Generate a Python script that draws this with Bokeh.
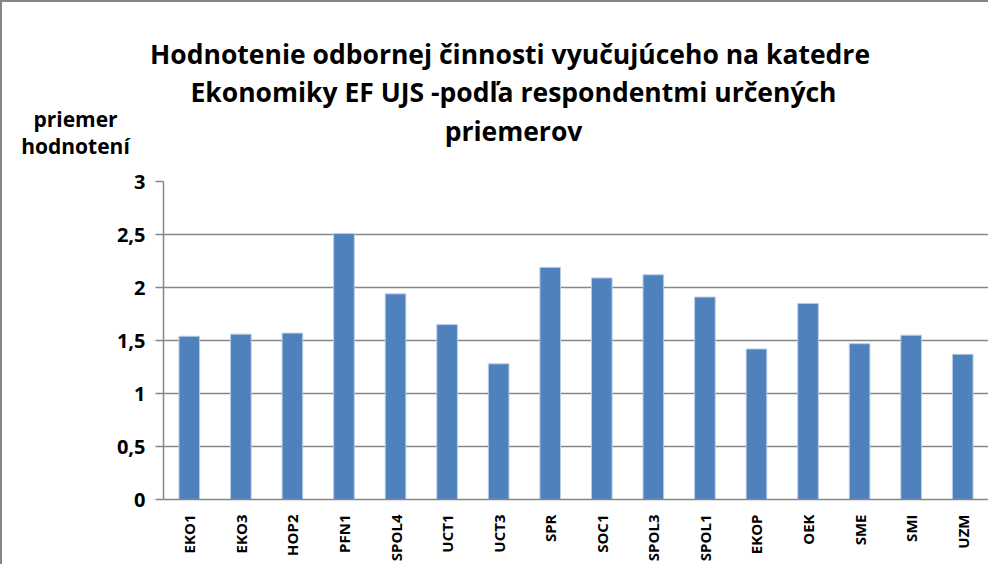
from bokeh.plotting import figure
from bokeh.layouts import column
from bokeh.models import Range1d, FactorRange, FixedTicker, ColumnDataSource
from bokeh.core.properties import value
from bokeh.embed import file_html
from bokeh.resources import INLINE
import math

categories = ["EKO1", "EKO3", "HOP2", "PFN1", "SPOL4", "UCT1", "UCT3", "SPR",
              "SOC1", "SPOL3", "SPOL1", "EKOP", "OEK", "SME", "SMI", "UZM"]
values = [1.54, 1.56, 1.57, 2.51, 1.94, 1.65, 1.28, 2.19,
          2.09, 2.12, 1.91, 1.42, 1.85, 1.47, 1.55, 1.37]
y_ticks = [0, 0.5, 1, 1.5, 2, 2.5, 3]
y_tick_labels = ["0", "0,5", "1", "1,5", "2", "2,5", "3"]
title_lines = ["Hodnotenie odbornej činnosti vyučujúceho na  katedre",
               "Ekonomiky EF UJS -podľa respondentmi určených",
               "priemerov"]
y_label_lines = ["priemer", "hodnotení"]

FONT = "Open Sans"
GRAY = "#868686"
W = 986
HEAD_H = 165

# ---- header (title + y-axis caption) ----
head = figure(width=W, height=HEAD_H, x_range=Range1d(0, W), y_range=Range1d(HEAD_H, 0),
              output_backend="svg", toolbar_location=None,
              x_axis_location=None, y_axis_location=None,
              min_border=0, min_border_left=0, min_border_right=0,
              min_border_top=0, min_border_bottom=0)
head.frame_align = False
head.grid.visible = False
head.outline_line_color = None
head.background_fill_color = "white"
head.border_fill_color = "white"

head.text(x=[511] * len(title_lines), y=[51, 89, 128], text=title_lines,
          text_align="center", text_baseline="middle",
          text_font=value(FONT), text_font_style="bold",
          text_font_size="26.5px", text_color="black")
head.text(x=[73] * len(y_label_lines), y=[116, 143], text=y_label_lines,
          text_align="center", text_baseline="middle",
          text_font=value(FONT), text_font_style="bold",
          text_font_size="21px", text_color="black")

# ---- main chart ----
source = ColumnDataSource(dict(cat=categories, val=values))

p = figure(width=W, height=397, x_range=FactorRange(*categories, range_padding=0),
           y_range=Range1d(0, 3), output_backend="svg", toolbar_location=None,
           min_border_left=161, min_border_right=0, min_border_top=14,
           min_border_bottom=64)
p.frame_align = False

p.vbar(x="cat", top="val", width=0.4, source=source, fill_color="#4F81BD",
       line_color="#B9CDE5", line_width=1)

p.outline_line_color = None
p.background_fill_color = "white"
p.border_fill_color = "white"

p.xgrid.grid_line_color = None
p.ygrid.grid_line_color = GRAY
p.ygrid.grid_line_width = 1.5
p.yaxis.ticker = FixedTicker(ticks=y_ticks)
p.yaxis.major_label_overrides = {t: l for t, l in zip(y_ticks, y_tick_labels)}
p.yaxis.axis_line_color = GRAY
p.yaxis.axis_line_width = 1.5
p.yaxis.major_tick_line_color = GRAY
p.yaxis.major_tick_line_width = 1.5
p.yaxis.major_tick_out = 8
p.yaxis.major_tick_in = 0
p.yaxis.minor_tick_line_color = None
p.yaxis.major_label_standoff = 10
p.yaxis.major_label_text_font = FONT
p.yaxis.major_label_text_font_style = "bold"
p.yaxis.major_label_text_font_size = "20px"
p.yaxis.major_label_text_color = "black"

p.xaxis.axis_line_color = GRAY
p.xaxis.axis_line_width = 1.5
p.xaxis.major_tick_line_color = None
p.xaxis.minor_tick_line_color = None
p.xaxis.major_label_orientation = math.pi / 2
p.xaxis.major_label_standoff = 9
p.xaxis.major_label_text_font = FONT
p.xaxis.major_label_text_font_style = "bold"
p.xaxis.major_label_text_font_size = "15px"
p.xaxis.major_label_text_color = "black"

layout = column(head, p, spacing=0)
layout.styles = {"border-left": f"2px solid {GRAY}", "border-top": f"2px solid {GRAY}"}

open("out.html", "w").write(file_html(layout, INLINE))
